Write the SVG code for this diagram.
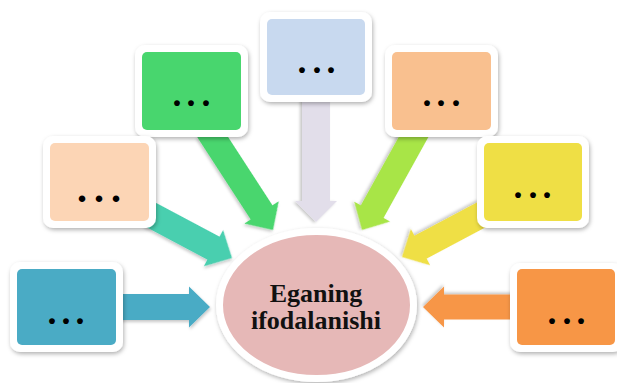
<svg xmlns="http://www.w3.org/2000/svg" width="617" height="383" viewBox="0 0 617 383">
<defs>
<filter id="sh" x="-20%" y="-20%" width="140%" height="140%">
<feDropShadow dx="1" dy="2" stdDeviation="2" flood-color="#000" flood-opacity="0.3"/>
</filter>
<filter id="sha" x="-20%" y="-20%" width="140%" height="140%">
<feDropShadow dx="1" dy="2" stdDeviation="1.5" flood-color="#000" flood-opacity="0.22"/>
</filter>
</defs>
<style>
.outer{fill:#ffffff;filter:url(#sh)}
.inner{stroke:none}
.dots{font-family:"Liberation Serif","Times New Roman",serif;font-weight:bold;font-size:36px;fill:#000;text-anchor:middle}
.arr{filter:url(#sha)}
.title{font-family:"Liberation Serif","Times New Roman",serif;font-weight:bold;font-size:26px;fill:#111;text-anchor:middle}
</style>
<rect width="617" height="383" fill="#ffffff"/>
<g id="connectors">
<path class="arr" fill="#4AABC5" transform="translate(210,307) rotate(0)" d="M0,0 L-21,-20.5 L-21,-13 L-95,-13 L-95,13 L-21,13 L-21,20.5 Z"/>
<path class="arr" fill="#F79646" transform="translate(423,307) rotate(180)" d="M0,0 L-21,-20.5 L-21,-12.5 L-97,-12.5 L-97,12.5 L-21,12.5 L-21,20.5 Z"/>
<path class="arr" fill="#E2DEEA" transform="translate(316,222) rotate(90)" d="M0,0 L-21,-21 L-21,-14 L-127,-14 L-127,14 L-21,14 L-21,21 Z"/>
<path class="arr" fill="#48D66E" transform="translate(273,230) rotate(57)" d="M0,0 L-21,-20.5 L-21,-13 L-119,-13 L-119,13 L-21,13 L-21,20.5 Z"/>
<path class="arr" fill="#A8E547" transform="translate(362,230) rotate(119)" d="M0,0 L-21,-20.5 L-21,-13 L-119,-13 L-119,13 L-21,13 L-21,20.5 Z"/>
<path class="arr" fill="#4ACFAF" transform="translate(232,258) rotate(28)" d="M0,0 L-21,-20.5 L-21,-13 L-93,-13 L-93,13 L-21,13 L-21,20.5 Z"/>
<path class="arr" fill="#EFDF45" transform="translate(402,257) rotate(152)" d="M0,0 L-21,-20.5 L-21,-13 L-94,-13 L-94,13 L-21,13 L-21,20.5 Z"/>
</g>
<g id="center">
<ellipse cx="316.5" cy="305" rx="97" ry="73.5" fill="#E6B8B7" stroke="#ffffff" stroke-width="7" filter="url(#sh)"/>
<text class="title" x="316" y="302">Eganing</text>
<text class="title" x="316" y="329">ifodalanishi</text>
</g>
<g id="box-top">
<rect class="outer" x="260" y="12" width="112" height="90" rx="10"/>
<rect class="inner" x="267" y="19" width="98" height="76" rx="5" fill="#C8D9EF"/>
<text class="dots" x="302 317 331" y="72.5">...</text>
</g>
<g id="box-green">
<rect class="outer" x="135" y="45" width="113" height="92" rx="10"/>
<rect class="inner" x="142" y="52" width="99" height="78" rx="5" fill="#48D66E"/>
<text class="dots" x="177 191 206" y="106">...</text>
</g>
<g id="box-orange-top">
<rect class="outer" x="385" y="45" width="113" height="92" rx="10"/>
<rect class="inner" x="392" y="52" width="99" height="78" rx="5" fill="#F9C08F"/>
<text class="dots" x="427 441 456" y="106">...</text>
</g>
<g id="box-peach">
<rect class="outer" x="43" y="136" width="113" height="92" rx="10"/>
<rect class="inner" x="50" y="143" width="99" height="78" rx="5" fill="#FCD5B5"/>
<text class="dots" x="82 99 116" y="202" style="font-size:40px">...</text>
</g>
<g id="box-yellow">
<rect class="outer" x="477" y="136" width="112" height="92" rx="10"/>
<rect class="inner" x="484" y="143" width="98" height="78" rx="5" fill="#EFDF45"/>
<text class="dots" x="518 533 547" y="198">...</text>
</g>
<g id="box-blue">
<rect class="outer" x="10" y="262" width="113" height="90" rx="10"/>
<rect class="inner" x="17" y="269" width="99" height="76" rx="5" fill="#4AABC5"/>
<text class="dots" x="52 66 80" y="323.5">...</text>
</g>
<g id="box-orange-bottom">
<rect class="outer" x="510" y="263" width="113" height="89" rx="10"/>
<rect class="inner" x="517" y="269" width="98" height="76" rx="5" fill="#F79646"/>
<text class="dots" x="552 567 581" y="323.5">...</text>
</g>
</svg>
